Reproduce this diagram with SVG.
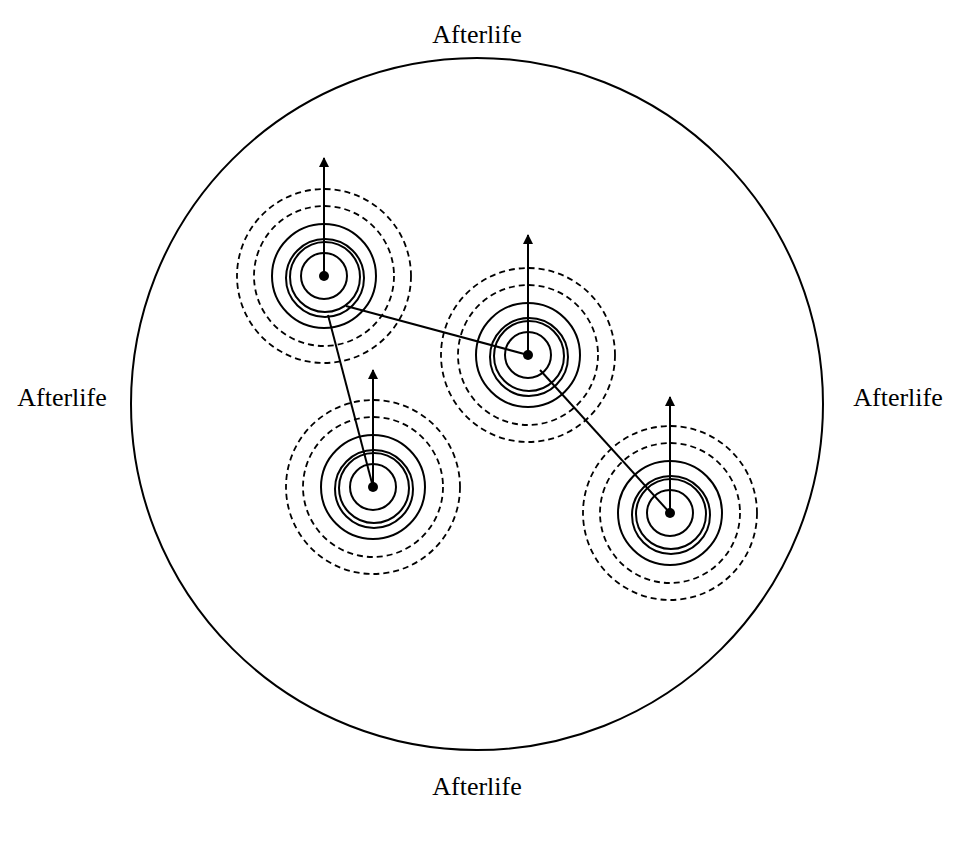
<svg xmlns="http://www.w3.org/2000/svg" width="960" height="853" viewBox="0 0 960 853">
<style>
text{font-family:"Liberation Serif",serif;font-size:26px;fill:#000;text-anchor:middle}
.s{fill:none;stroke:#000;stroke-width:2}
.d{fill:none;stroke:#000;stroke-width:1.8;stroke-dasharray:6 4}
</style>
<defs>
<marker id="ah" viewBox="0 0 10 10" refX="9" refY="5" markerWidth="12" markerHeight="10" markerUnits="userSpaceOnUse" orient="auto"><path d="M0,0L10,5L0,10z"/></marker>
<g id="cl">
<circle class="d" r="87"/><circle class="d" r="70"/>
<circle class="s" r="52"/><circle class="s" cx="1" cy="2" r="39"/><circle class="s" cx="1" cy="1" r="35"/><circle class="s" r="23"/>
<circle r="5"/>
</g>
</defs>
<rect width="960" height="853" fill="#fff"/>
<circle class="s" cx="477" cy="404" r="346"/>
<text x="477" y="43">Afterlife</text>
<text x="62" y="406">Afterlife</text>
<text x="898" y="406">Afterlife</text>
<text x="477" y="795">Afterlife</text>
<g id="connectors" class="s">
<line x1="346" y1="306" x2="528" y2="355"/>
<line x1="328" y1="315" x2="373" y2="487"/>
<line x1="540" y1="370" x2="670" y2="513"/>
<line x1="324" y1="276" x2="324" y2="158" marker-end="url(#ah)"/>
<line x1="528" y1="355" x2="528" y2="235" marker-end="url(#ah)"/>
<line x1="373" y1="487" x2="373" y2="370" marker-end="url(#ah)"/>
<line x1="670" y1="513" x2="670" y2="397" marker-end="url(#ah)"/>
</g>
<g id="a"><use href="#cl" x="324" y="276"/></g>
<g id="b"><use href="#cl" x="528" y="355"/></g>
<g id="c"><use href="#cl" x="373" y="487"/></g>
<g id="d"><use href="#cl" x="670" y="513"/></g>
</svg>
